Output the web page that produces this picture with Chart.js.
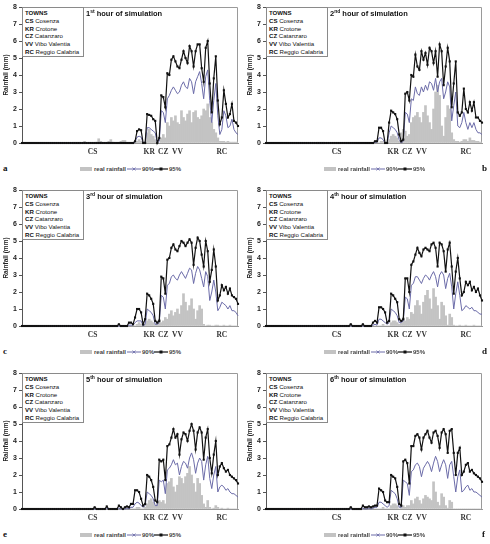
<!DOCTYPE html>
<html>
<head>
<meta charset="utf-8">
<script src="https://cdn.jsdelivr.net/npm/chart.js@4.4.1/dist/chart.umd.min.js"></script>
<style>
  html, body { margin: 0; padding: 0; background: #fff; }
  #page { position: relative; width: 490px; height: 544px; overflow: hidden; font-family: Arial, "Liberation Sans", sans-serif; }
  .panel { position: absolute; width: 246px; height: 178px; }
  .panel canvas { position: absolute; left: 0; top: 0; }
  .towns { position: absolute; left: 22px; top: 7px; width: 58px; height: 47px; border: 1px solid #8a8a8a; background: #fff;
           font-size: 6.1px; line-height: 7.8px; padding: 1px 0 0 2px; color: #111; white-space: nowrap; overflow: hidden; }
  .towns b { font-weight: bold; }
  .title { position: absolute; left: 86px; top: 9px; font-size: 7.5px; font-weight: bold; line-height: 10px; color: #111; white-space: nowrap; }
  .title sup { font-size: 5px; line-height: 0; vertical-align: 3px; }
  .lg { position: absolute; top: 164px; font-size: 6px; font-weight: bold; color: #444; line-height: 10px; white-space: nowrap; }
  .swatch { position: absolute; top: 167px; left: 80px; width: 12px; height: 4px; background: #c3c3c3; }
  .lgsym { position: absolute; top: 166px; }
  .letter { position: absolute; font-family: "Liberation Serif", "Times New Roman", serif; font-weight: bold; font-size: 9px; color: #111; }
</style>
</head>
<body>
<div id="page"></div>
<script>
// towns along the transect (station index where the label sits)
const townCodes = ['CS', 'KR', 'CZ', 'VV', 'RC'];
const townNames = ['Cosenza', 'Crotone', 'Catanzaro', 'Vibo Valentia', 'Reggio Calabria'];
const townIdx = [35, 63, 70, 77, 99];

const hours = ['1', '2', '3', '4', '5', '6'];
const hourSuffix = ['st', 'nd', 'rd', 'th', 'th', 'th'];
const panelLetters = ['a', 'b', 'c', 'd', 'e', 'f'];

// 1st hour
const realRain1 = [
  0,0,0,0,0,0,0,0,0,0,0,0,0,0, 0,0,0,0,0,0,0,0,0,0,0,0,0,0,
  0,0,0,0.1,0,0,0,0,0,0.05,0.25,0.1,0,0, 0,0.1,0.2,0.05,0,0,0,0.1,0.15,0.15,0,0,0,0,
  0,0.1,0.2,0.1,0,0.1,0.6,0.8,0.5,0.4,0.2,0,0,0.3,0.5,0.3,1.2,1.0,1.5,1.3,1.6,1.2,1.1,1.9,1.5,1.3,
  1.7,1.9,1.2,1.8,1.9,1.5,1.4,1.6,2.0,1.9,2.3,1.5,1.2,0.8,0.6,0.3,0.1,0.1,0.1,0.05,0.1,0.05,0.05,0.05,0.05,0.05];
const sim90_1 = [
  0,0,0,0,0,0,0,0,0,0,0,0,0,0, 0,0,0,0,0,0,0,0,0,0,0,0,0,0,
  0,0,0,0,0,0,0,0,0,0,0,0,0,0, 0,0,0,0,0,0,0,0,0,0,0,0,0,0,
  0.05,0.35,0.4,0.35,0,0,0.9,0.9,0.8,0.7,0.6,0,0.1,1.9,1.8,1.2,2.6,2.8,3.1,3.3,3.1,2.9,3.0,3.4,3.6,3.3,
  3.2,3.8,3.6,2.9,3.6,3.9,4.2,3.5,2.6,3.9,4.3,2.5,1.2,2.5,3.5,1.6,0.5,0.8,1.9,1.6,0.9,1.0,1.4,0.8,0.6,0.5];
const sim95_1 = [
  0,0,0,0,0,0,0,0,0,0,0,0,0,0, 0,0,0,0,0,0,0,0,0,0,0,0,0,0,
  0,0,0,0,0,0,0,0,0,0,0,0,0,0, 0,0,0,0,0,0,0,0,0,0,0,0,0,0,
  0.1,0.7,0.8,0.75,0,0,1.7,1.65,1.6,1.4,1.3,0,0.3,2.8,2.7,2.1,4.1,4.0,4.9,5.1,4.8,4.5,4.4,4.9,5.4,5.0,
  4.7,5.7,5.4,4.5,5.4,5.8,5.8,4.4,3.6,5.6,6.0,3.5,1.8,3.8,5.1,2.5,1.1,1.5,3.1,2.3,1.5,1.7,2.3,1.3,1.2,1.0];

// 2nd hour
const realRain2 = [
  0,0,0,0,0,0,0,0,0,0,0,0,0,0, 0,0,0,0,0,0,0,0,0,0,0,0,0,0,
  0,0,0,0,0,0,0,0,0,0,0,0,0,0, 0,0,0,0,0,0,0,0,0,0,0,0,0,0,
  0,0.1,0.1,0,0,0.2,0.4,0.5,0.4,0.3,0.1,0.6,0.8,0.7,0.4,0.5,1.2,1.5,1.6,1.8,1.5,1.2,1.8,2.2,1.6,1.2,
  0.8,2.0,3.0,3.4,2.8,1.0,0.4,1.5,2.2,2.0,0.6,0.2,0.1,0.1,0.05,0.1,0.2,0.2,0.1,0.3,0.15,0.15,0.1,0.1,0.05,0.05];
const sim90_2 = [
  0,0,0,0,0,0,0,0,0,0,0,0,0,0, 0,0,0,0,0,0,0,0,0,0,0,0,0,0,
  0,0,0,0,0,0,0,0,0,0,0,0,0,0, 0,0,0,0,0,0,0,0,0,0,0,0,0.05,0.05,
  0.3,0.3,0.2,0,0,0.6,1.0,0.9,0.8,0.6,0.2,0,0.1,1.8,1.7,1.2,2.6,2.5,3.3,2.9,2.8,3.3,3.0,3.4,3.1,3.6,
  3.5,3.1,3.8,3.0,3.6,3.8,2.6,3.0,3.6,3.3,1.3,2.2,3.0,1.0,0.9,1.2,1.8,1.2,0.8,1.2,0.9,1.2,0.8,0.6,0.6,0.5];
const sim95_2 = [
  0,0,0,0,0,0,0,0,0,0,0,0,0,0, 0,0,0,0,0,0,0,0,0,0,0,0,0,0,
  0,0,0,0,0,0,0,0,0,0,0,0,0,0, 0,0,0,0,0,0,0,0,0,0,0,0,0.1,0.1,
  0.9,0.9,0.7,0,0,1.2,1.9,1.8,1.7,1.4,0.5,0.1,0.2,2.9,3.0,2.5,4.0,3.9,5.2,4.5,4.3,5.4,4.9,5.3,4.6,5.6,
  5.4,4.7,5.4,3.9,5.8,5.4,3.4,4.5,5.6,4.8,2.1,3.5,4.8,1.8,1.6,1.8,3.2,2.0,1.8,2.4,1.9,2.4,1.5,1.5,1.3,1.2];

// 3rd hour
const realRain3 = [
  0,0,0,0,0,0,0,0,0,0,0,0,0,0, 0,0,0,0,0,0,0,0,0,0,0,0,0,0,
  0,0,0,0,0,0,0,0,0,0,0,0,0,0, 0,0,0,0,0,0,0,0,0,0,0,0,0,0,
  0,0.1,0.2,0.1,0,0.1,0.3,0.4,0.3,0.2,0.1,0.3,0.4,0.2,0.3,0.5,0.4,0.7,0.9,0.6,0.8,1.0,0.7,1.2,1.9,1.4,
  0.9,1.2,1.6,1.0,0.4,0.9,1.2,1.0,0.1,0,0.05,0.05,0,0,0.05,0.05,0,0,0.05,0,0,0.05,0,0,0,0];
const sim90_3 = [
  0,0,0,0,0,0,0,0,0,0,0,0,0,0, 0,0,0,0,0,0,0,0,0,0,0,0,0,0,
  0,0,0,0,0,0,0,0,0,0,0,0,0,0, 0,0,0,0,0,0,0,0,0,0,0,0.05,0.05,0.05,
  0.2,0.3,0.3,0.3,0,0.1,1.0,0.9,0.8,0.6,0.1,0.1,0.2,1.8,1.7,1.0,2.4,2.5,2.9,3.0,2.8,2.7,3.0,3.2,3.0,2.8,
  3.1,3.4,3.3,2.5,3.1,3.5,3.3,2.8,2.3,3.2,2.9,1.5,2.0,2.7,2.0,0.9,1.1,1.4,1.3,1.2,1.0,1.2,0.9,0.9,0.8,0.6];
const sim95_3 = [
  0,0,0,0,0,0,0,0,0,0,0,0,0,0, 0,0,0,0,0,0,0,0,0,0,0,0,0,0,
  0,0,0,0,0,0,0,0,0,0,0,0,0,0, 0,0,0,0,0,0,0.1,0,0,0,0,0.2,0.2,0.1,
  0.5,1.0,1.0,0.8,0.1,0.4,1.9,1.8,1.6,1.3,0.3,0.2,0.3,2.9,2.8,1.9,3.9,4.0,4.6,4.8,4.5,4.4,4.7,5.0,4.9,4.7,
  4.9,5.1,4.9,3.6,4.6,5.2,5.0,4.2,3.5,5.0,4.4,2.6,3.3,4.5,3.5,1.5,1.8,2.4,2.1,2.3,1.9,2.2,1.8,1.7,1.6,1.3];

// 4th hour
const realRain4 = [
  0,0,0,0,0,0,0,0,0,0,0,0,0,0, 0,0,0,0,0,0,0,0,0,0,0,0,0,0,
  0,0,0,0,0,0,0,0,0,0,0,0,0,0, 0,0,0,0,0,0,0,0,0,0,0,0,0,0,
  0,0,0.1,0,0,0,0.2,0.3,0.3,0.2,0.1,0.2,0.5,0.3,0.5,0.4,0.8,0.7,1.2,1.5,1.2,0.7,1.4,1.8,2.1,1.6,
  1.0,2.2,1.7,1.2,0.4,1.4,1.2,0.6,0.05,0.7,0.5,0.05,0,0,0.05,0,0,0.05,0,0,0,0.05,0,0,0,0];
const sim90_4 = [
  0,0,0,0,0,0,0,0,0,0,0,0,0,0, 0,0,0,0,0,0,0,0,0,0,0,0,0,0,
  0,0,0,0,0,0,0,0,0,0,0,0,0,0, 0,0,0,0,0,0,0,0,0,0,0,0.05,0.1,0.05,
  0.4,0.4,0.3,0.2,0.1,0.2,1.0,0.9,0.8,0.6,0.2,0.2,0.3,1.7,1.6,1.0,2.4,2.5,2.9,2.9,2.7,2.5,2.8,3.0,2.9,2.7,
  3.0,3.2,2.9,2.3,3.0,3.2,3.0,2.2,2.8,3.1,2.3,1.0,1.9,2.6,1.8,0.9,1.0,1.2,1.1,1.0,1.1,0.9,0.9,0.8,0.7,0.7];
const sim95_4 = [
  0,0,0,0,0,0,0,0,0,0,0,0,0,0, 0,0,0,0,0,0,0,0,0,0,0,0,0,0,
  0,0,0,0,0,0,0,0,0,0,0,0,0,0, 0.1,0,0,0,0,0,0.1,0,0,0,0,0.2,0.3,0.2,
  1.1,1.1,1.0,0.8,0.2,0.3,1.9,1.8,1.6,1.4,0.4,0.3,0.4,2.8,2.8,2.0,3.6,3.8,4.2,4.6,4.3,4.1,4.5,4.6,4.5,4.4,
  4.8,4.9,4.6,3.5,4.9,4.8,4.4,3.2,4.5,4.9,3.5,1.9,3.2,4.0,2.8,1.8,2.0,2.6,2.4,2.6,2.1,2.3,2.0,2.2,1.8,1.5];

// 5th hour
const realRain5 = [
  0,0,0,0,0,0,0,0,0,0,0,0,0,0, 0,0,0,0,0,0,0,0,0,0,0,0,0,0,
  0,0,0,0,0,0,0,0,0,0,0,0,0,0, 0,0,0,0,0,0,0,0,0,0,0,0,0,0,
  0,0.1,0.1,0,0,0.1,0.3,0.5,0.6,0.4,0.2,0.3,0.5,0.4,0.5,0.3,1.5,1.6,1.8,1.3,1.0,1.4,1.9,1.8,1.5,1.9,
  2.1,2.5,2.0,1.5,1.0,1.8,1.5,0.8,0.3,0.1,0.5,0.1,0,0.05,0.2,0.1,0,0.05,0,0,0.05,0,0,0,0,0];
const sim90_5 = [
  0,0,0,0,0,0,0,0,0,0,0,0,0,0, 0,0,0,0,0,0,0,0,0,0,0,0,0,0,
  0,0,0,0,0,0,0,0,0,0,0,0,0,0, 0.05,0,0,0,0,0,0.05,0,0,0,0.05,0,0.1,0.1,
  0.3,0.4,0.35,0.2,0.1,0.2,1.0,0.9,0.8,0.6,0.2,0.2,1.7,1.6,1.7,0.9,2.3,2.4,2.6,2.9,2.6,2.7,2.0,2.5,2.8,2.7,
  2.4,3.0,3.3,2.9,2.1,2.7,3.0,2.8,1.7,2.6,3.1,1.8,1.2,2.0,2.5,1.0,1.3,1.4,1.3,1.1,1.2,1.0,0.9,0.9,0.8,0.7];
const sim95_5 = [
  0,0,0,0,0,0,0,0,0,0,0,0,0,0, 0,0,0,0,0,0,0,0,0,0,0,0,0,0,
  0,0,0,0,0,0,0,0,0.1,0,0,0,0,0, 0.15,0,0,0,0,0,0.2,0.1,0,0.1,0.15,0.1,0.3,0.3,
  1.1,1.1,1.0,0.6,0.2,0.3,2.0,1.9,1.7,1.3,0.5,0.4,2.9,2.8,2.9,1.7,3.7,3.8,4.2,4.7,4.2,4.4,3.2,4.1,4.5,4.4,
  4.0,4.6,5.0,4.6,3.5,4.5,4.8,4.5,2.9,4.2,4.7,3.0,2.1,3.2,4.0,2.0,2.5,2.7,2.4,2.2,2.3,2.0,1.9,1.8,1.7,1.5];

// 6th hour
const realRain6 = [
  0,0,0,0,0,0,0,0,0,0,0,0,0,0, 0,0,0,0,0,0,0,0,0,0,0,0,0,0,
  0,0,0,0,0,0,0,0,0,0,0,0,0,0, 0,0,0,0,0,0,0,0,0.05,0,0,0.05,0,0,
  0,0,0.1,0,0,0,0.2,0.3,0.3,0.2,0,0.2,0.2,0.1,0.2,0.2,0.5,0.3,0.6,0.7,0.5,0.3,0.6,0.8,0.7,0.6,
  0.5,1.6,1.0,0.4,0.2,0.9,0.7,0.2,0.05,0.5,0.4,0,0,0,0,0,0,0,0,0,0,0,0,0,0,0];
const sim90_6 = [
  0,0,0,0,0,0,0,0,0,0,0,0,0,0, 0,0,0,0,0,0,0,0,0,0,0,0,0,0,
  0,0,0,0,0,0,0,0,0,0,0,0,0,0, 0,0,0,0,0,0,0.05,0,0,0.05,0,0.05,0.1,0.1,
  0.4,0.4,0.3,0.2,0.1,0.2,1.1,1.0,0.9,0.6,0.1,0.1,1.7,1.6,1.5,0.8,2.2,2.3,2.6,2.7,2.5,1.9,2.4,2.6,2.8,2.6,
  2.2,2.7,3.1,2.8,2.2,2.6,2.9,2.6,1.8,2.6,2.8,1.9,1.0,1.9,2.3,1.0,1.1,1.3,1.4,1.1,1.2,1.0,1.0,0.9,0.8,0.7];
const sim95_6 = [
  0,0,0,0,0,0,0,0,0,0,0,0,0,0, 0,0,0,0,0,0,0,0,0,0,0,0,0,0,
  0,0,0,0,0,0,0,0,0,0,0,0,0,0, 0.1,0,0,0,0,0,0.2,0.1,0.1,0.15,0.1,0.15,0.2,0.2,
  1.2,1.1,1.0,0.5,0.4,0.4,2.0,1.9,1.8,1.3,0.3,0.2,2.8,2.9,2.7,1.5,3.7,3.7,4.3,4.4,4.2,3.5,4.2,4.4,4.6,4.2,
  3.9,4.5,4.6,4.3,3.6,4.5,4.7,4.4,3.3,4.6,4.7,3.3,2.0,3.3,3.6,2.0,2.2,2.6,2.7,2.2,2.3,2.1,2.0,1.9,1.8,1.6];

const realSeries = [realRain1, realRain2, realRain3, realRain4, realRain5, realRain6];
const sim90Series = [sim90_1, sim90_2, sim90_3, sim90_4, sim90_5, sim90_6];
const sim95Series = [sim95_1, sim95_2, sim95_3, sim95_4, sim95_5, sim95_6];

const stations = realRain1.map((v, i) => i + 1);
const xLabels = stations.map(() => '');
townIdx.forEach((idx, k) => { xLabels[idx] = townCodes[k]; });

const BLUE = '#6b6ba8';
const GREY = '#c3c3c3';

// grey frame on top and right of the plot area
const plotFrame = {
  id: 'plotFrame',
  beforeDatasetsDraw(chart) {
    const { ctx, chartArea: a } = chart;
    ctx.save();
    ctx.strokeStyle = '#9a9a9a';
    ctx.lineWidth = 1;
    ctx.beginPath();
    ctx.moveTo(a.left, a.top + 0.5);
    ctx.lineTo(a.right - 0.5, a.top + 0.5);
    ctx.lineTo(a.right - 0.5, a.bottom);
    ctx.stroke();
    ctx.restore();
  }
};

class RainfallPanel {
  constructor(el, n) {
    this.el = el;
    this.n = n;
    this.render();
  }

  render() {
    const right = this.n % 2 === 1;
    const letterPos = right ? 'left:238px;top:163px' : 'left:3px;top:163px';
    const towns = townCodes.map((c, k) => `<b>${c}</b> ${townNames[k]}`).join('<br>');
    this.el.innerHTML = `
      <canvas width="245" height="160"></canvas>
      <div class="towns"><b>TOWNS</b><br>${towns}</div>
      <div class="title">${hours[this.n]}<sup>${hourSuffix[this.n]}</sup> hour of simulation</div>
      <div class="swatch"></div>
      <div class="lg" style="left:94px">real rainfall</div>
      <svg class="lgsym" style="left:127px" width="14" height="6">
        <line x1="0" y1="3" x2="14" y2="3" stroke="${BLUE}" stroke-width="1"/>
        <path d="M5.5 1.5 L8.5 4.5 M8.5 1.5 L5.5 4.5" stroke="${BLUE}" stroke-width="0.8"/>
      </svg>
      <div class="lg" style="left:142px">90%</div>
      <svg class="lgsym" style="left:154px" width="14" height="6">
        <line x1="0" y1="3" x2="14" y2="3" stroke="#111" stroke-width="1.2"/>
        <rect x="5.5" y="1.5" width="3" height="3" fill="#111"/>
      </svg>
      <div class="lg" style="left:169px">95%</div>
      <div class="letter" style="${letterPos}">${panelLetters[this.n]}</div>
    `;
  }

  addChart() {
    const ctx = this.el.querySelector('canvas');
    const tickFont = { family: 'Arial, "Liberation Sans", sans-serif', size: 7, weight: 'bold' };

    const config = {
      data: {
        labels: stations,
        datasets: [
          {
            type: 'line', label: '95%', data: sim95Series[this.n], order: 0,
            borderColor: '#111', borderWidth: 1.2, tension: 0, clip: false,
            pointStyle: 'rect', pointRadius: 1.5, pointBackgroundColor: '#111', pointBorderWidth: 0
          },
          {
            type: 'line', label: '90%', data: sim90Series[this.n], order: 1,
            borderColor: BLUE, borderWidth: 1, tension: 0, clip: false, pointRadius: 0
          },
          {
            type: 'bar', label: 'real rainfall', data: realSeries[this.n], order: 2,
            backgroundColor: GREY, borderWidth: 0, barPercentage: 1, categoryPercentage: 1
          }
        ]
      },
      options: {
        responsive: false,
        animation: false,
        layout: { padding: { top: 7, right: 7, left: 0, bottom: 0 } },
        plugins: { legend: { display: false }, tooltip: { enabled: false } },
        scales: {
          x: {
            offset: false,
            grid: { display: false, drawTicks: false },
            border: { color: '#999' },
            ticks: {
              autoSkip: false, maxRotation: 0, minRotation: 0, padding: 5, color: '#333',
              font: { family: '"Liberation Serif", "Times New Roman", serif', size: 7.5, weight: 'bold' },
              callback: (v, i) => xLabels[i]
            },
            afterFit: (s) => { s.height = 17; s.paddingLeft = 0; s.paddingRight = 0; }
          },
          y: {
            min: 0, max: 8,
            ticks: { stepSize: 1, padding: 2, color: '#222', font: tickFont },
            grid: { drawOnChartArea: false, tickLength: 3, color: '#555' },
            border: { color: '#555' },
            title: {
              display: true, text: 'Rainfall (mm)', color: '#222',
              font: { family: 'Arial, "Liberation Sans", sans-serif', size: 6.5, weight: 'bold' },
              padding: { top: 2, bottom: 0 }
            },
            afterFit: (s) => { s.width = 22; s.paddingTop = 0; s.paddingBottom = 0; }
          }
        }
      },
      plugins: [plotFrame]
    };

    new Chart(ctx, config);
  }
}

const page = document.getElementById('page');
hours.forEach((h, n) => {
  const el = document.createElement('div');
  el.className = 'panel';
  el.style.left = (n % 2 === 1 ? 244 : 0) + 'px';
  el.style.top = (Math.floor(n / 2) * 183) + 'px';
  page.appendChild(el);
  const panel = new RainfallPanel(el, n);
  panel.addChart();
});
</script>
</body>
</html>
